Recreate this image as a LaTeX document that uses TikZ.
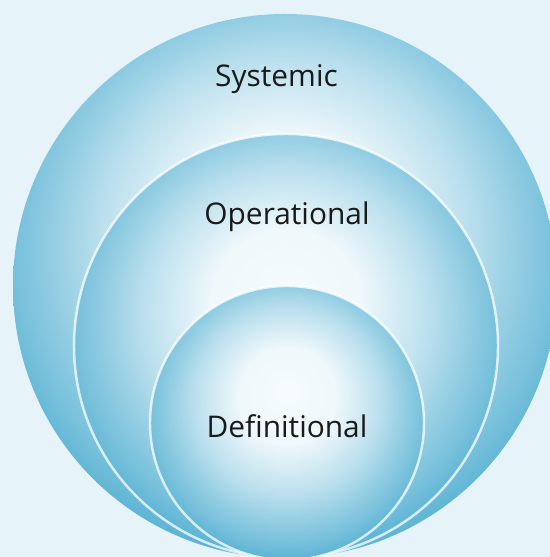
\documentclass[tikz,border=0pt]{standalone}
\usepackage{fontspec}
\setmainfont{Open Sans}
\usepackage{tikz}

\definecolor{pagebg}{HTML}{E6F3F9}
\definecolor{ringblue}{HTML}{3AA4CB}
\definecolor{ringlight}{HTML}{F6FBFD}
\definecolor{labeltext}{HTML}{1A1A1A}

\pgfdeclareradialshading{ringshade}{\pgfpoint{0bp}{6bp}}{%
  color(0bp)=(ringlight);
  color(9bp)=(ringblue!4!ringlight);
  color(17bp)=(ringblue!32!ringlight);
  color(22bp)=(ringblue!55!ringlight);
  color(25bp)=(ringblue!68!ringlight);
  color(31bp)=(ringblue);
  color(50bp)=(ringblue)}

\tikzset{
  ring/.style={shading=ringshade},
  ringedge/.style={draw=white, draw opacity=0.75, line width=1.4pt},
  ringlabel/.style={anchor=base, text=labeltext, font=\fontsize{17}{20}\selectfont, inner sep=0pt}
}

\begin{document}
\begin{tikzpicture}[x=0.02cm, y=0.02cm]
    \fill[pagebg] (0,0) rectangle (550,557);
    \useasboundingbox (0,0) rectangle (550,557);
    \clip (0,0) rectangle (550,557);
    \path[ring] (285,271) circle (272);
    \path[ring, ringedge] (286,211) circle (212);
    \path[ring, ringedge] (287,134) circle (137);
    \node[ringlabel] (systemic) at (276.5,470) {Systemic};
    \node[ringlabel] (operational) at (287,332) {Operational};
    \node[ringlabel] (definitional) at (287,119) {Definitional};
\end{tikzpicture}
\end{document}
